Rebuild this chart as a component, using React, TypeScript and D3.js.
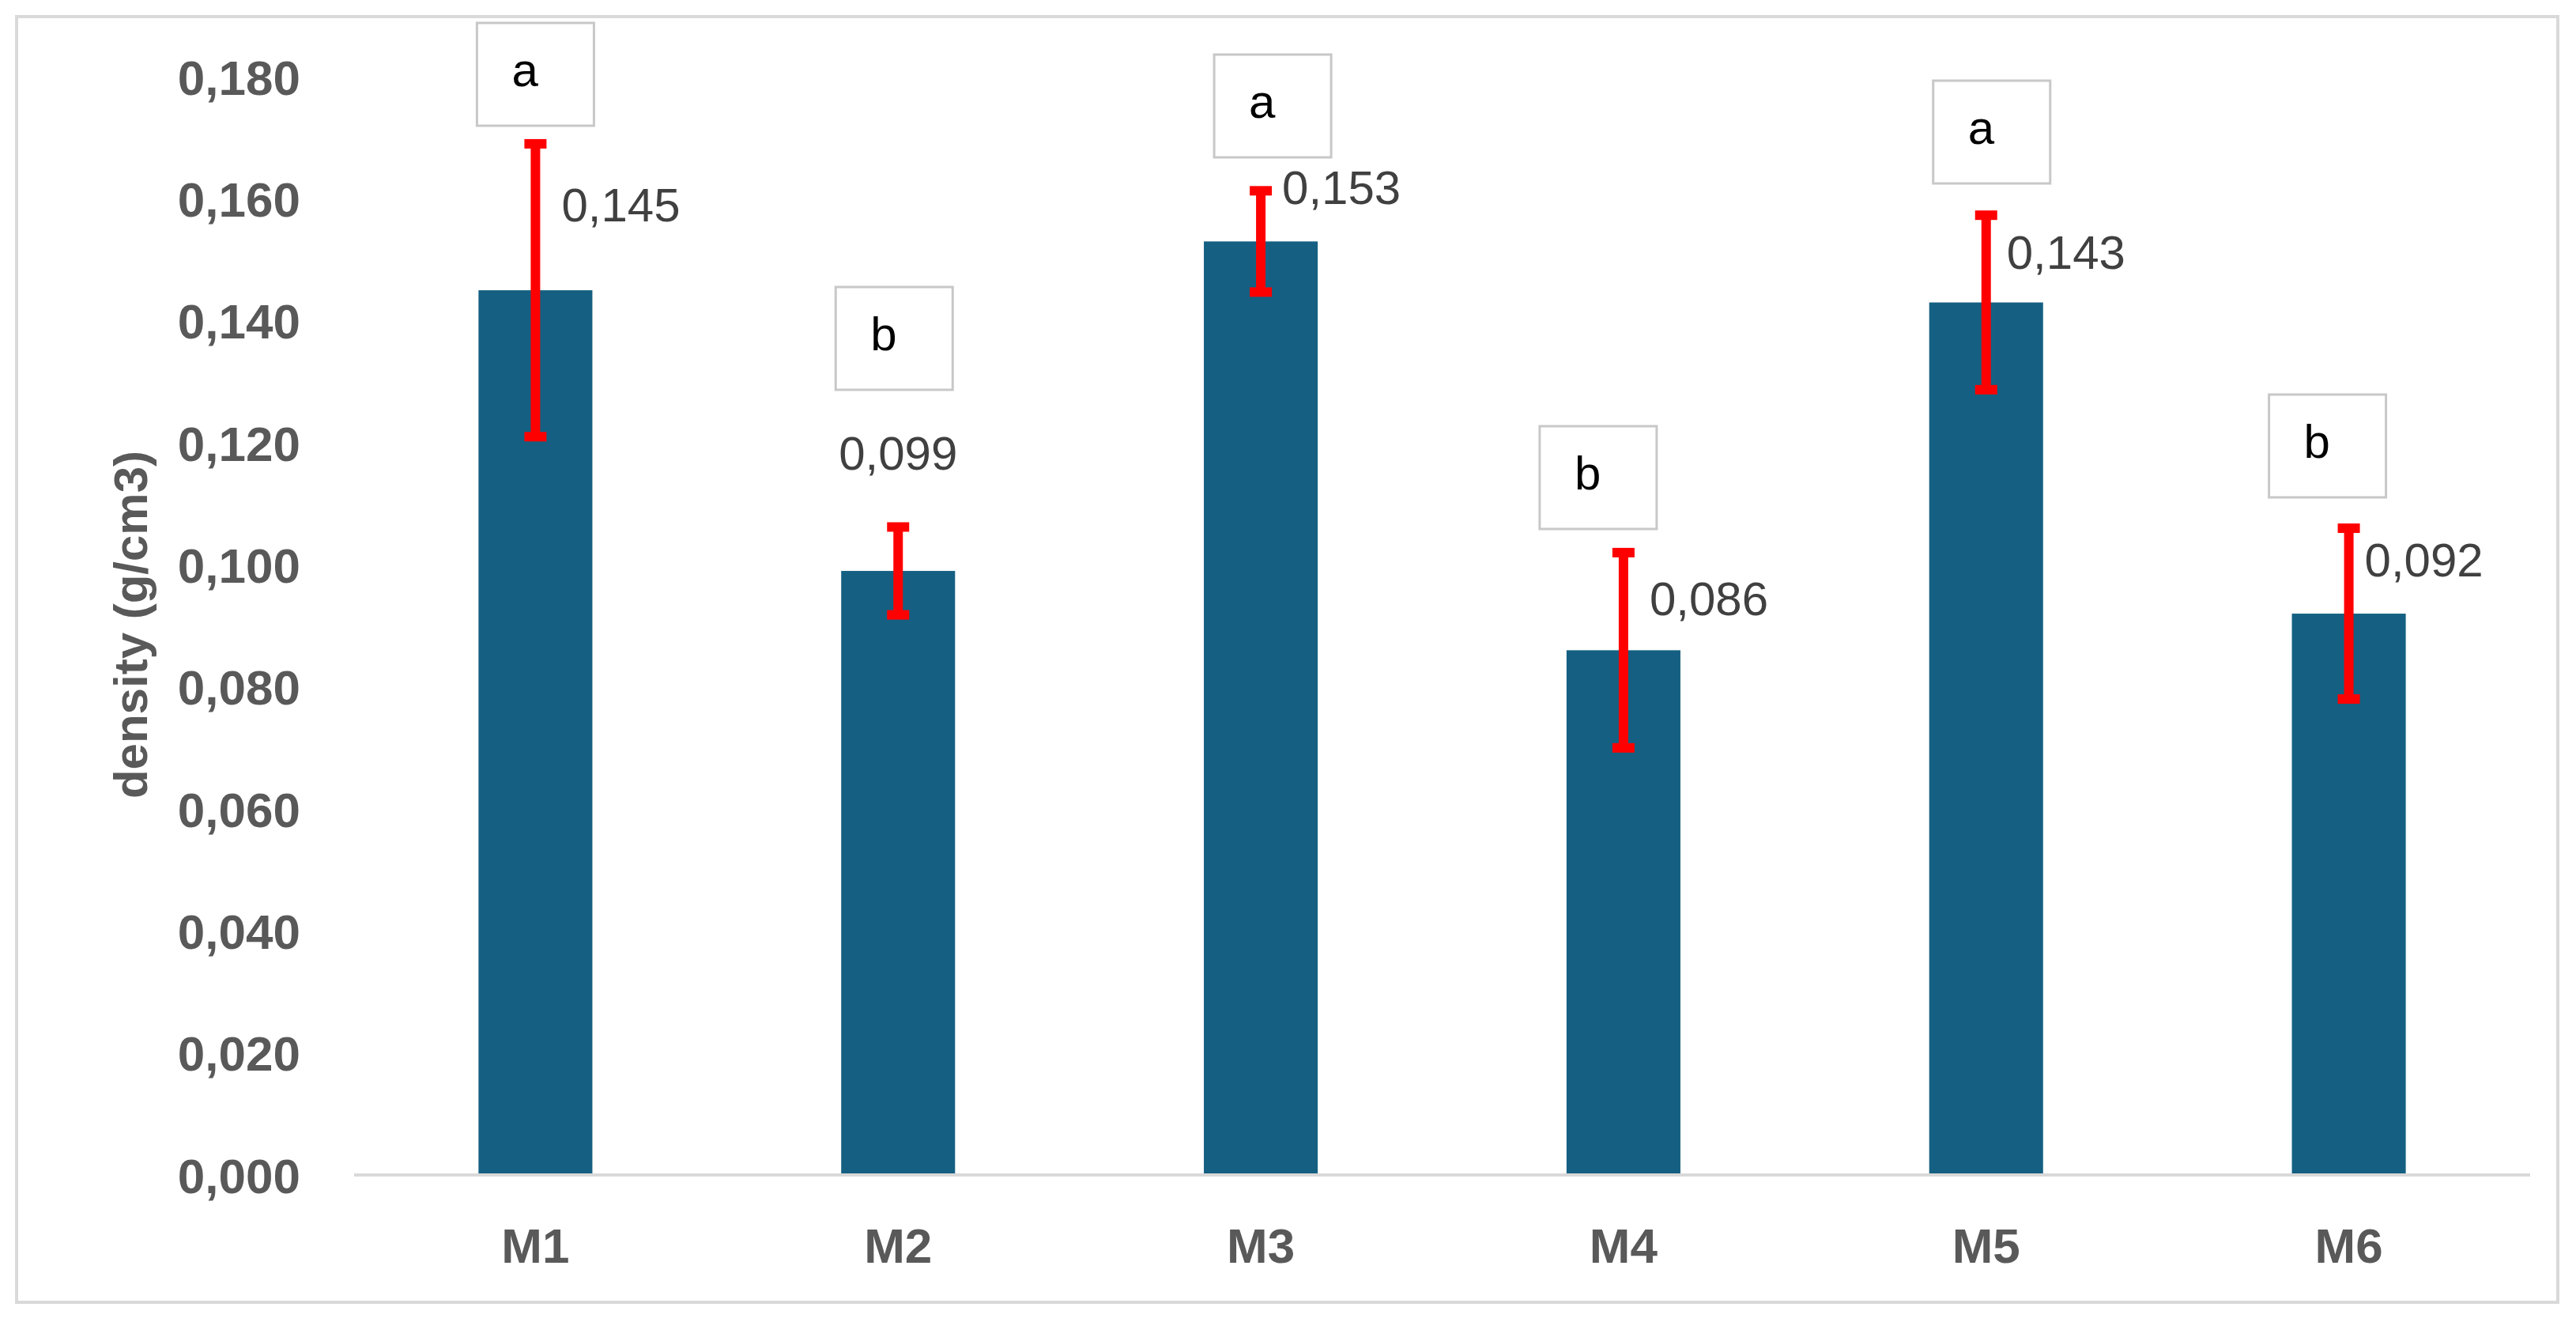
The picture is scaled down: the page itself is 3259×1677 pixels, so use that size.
import * as d3 from "d3";
import { useEffect, useRef } from "react";

// chart data
const categories: string[] = ["M1", "M2", "M3", "M4", "M5", "M6"];
const density: number[] = [0.145, 0.099, 0.153, 0.086, 0.143, 0.092];
const errors: number[] = [0.024, 0.0072, 0.0083, 0.016, 0.0143, 0.014];
const groups: string[] = ["a", "b", "a", "b", "a", "b"];
const yTicks: number[] = [0, 0.02, 0.04, 0.06, 0.08, 0.1, 0.12, 0.14, 0.16, 0.18];

// hand placed annotations (pixels, relative to the band centre)
const boxDx: number[] = [0, -5, 15, -32, 7, -27];
const boxTop: number[] = [29, 363, 69, 539, 102, 499];
const labelDx: number[] = [33, 0, 27, 33, 26, 20];
const labelBaseline: number[] = [280, 594, 258, 778, 340, 729];
const labelAnchor: string[] = ["start", "middle", "start", "start", "start", "start"];

const W = 3259;
const H = 1677;

export default function App() {
  const svgRef = useRef<SVGSVGElement | null>(null);

  useEffect(() => {
    document.body.style.margin = "0";
    const svg = d3.select(svgRef.current);
    svg.selectAll("*").remove();

    const left = 448, right = 3201, top = 97, bottom = 1486;
    const x = d3.scaleBand<string>()
      .domain(categories)
      .range([left, right])
      .paddingInner(0.686)
      .paddingOuter(0.343);
    const y = d3.scaleLinear().domain([0, 0.18]).range([bottom, top]);
    const fmt = d3.formatLocale({ decimal: ",", thousands: ".", grouping: [3], currency: ["", ""] }).format(".3f");

    svg.append("rect").attr("width", W).attr("height", H).attr("fill", "#ffffff");

    // outer frame
    svg.append("rect")
      .attr("x", 21).attr("y", 21)
      .attr("width", 3236 - 21).attr("height", 1647 - 21)
      .attr("fill", "none").attr("stroke", "#d9d9d9").attr("stroke-width", 4);

    // y axis labels
    const yAxis = d3.axisLeft(y).tickValues(yTicks).tickFormat(d => fmt(d as number)).tickSize(0).tickPadding(0);
    const ga = svg.append("g").attr("transform", "translate(380,0)").call(yAxis);
    ga.select(".domain").remove();
    ga.selectAll("text")
      .attr("font-family", "'Liberation Sans', Arial, sans-serif")
      .attr("font-weight", "bold")
      .attr("font-size", 62)
      .attr("fill", "#595959")
      .attr("dy", "0.36em");

    // bars
    svg.append("g").selectAll("rect")
      .data(density)
      .join("rect")
      .attr("x", (_, i) => x(categories[i])!)
      .attr("width", x.bandwidth())
      .attr("y", d => y(d))
      .attr("height", d => y(0) - y(d))
      .attr("fill", "#156082");

    // category axis line
    svg.append("line")
      .attr("x1", left).attr("x2", right)
      .attr("y1", bottom).attr("y2", bottom)
      .attr("stroke", "#d9d9d9").attr("stroke-width", 4);

    // x labels
    const xAxis = d3.axisBottom(x).tickSize(0).tickPadding(0);
    const gx = svg.append("g").attr("transform", `translate(0,${bottom})`).call(xAxis);
    gx.select(".domain").remove();
    gx.selectAll("text")
      .attr("font-family", "'Liberation Sans', Arial, sans-serif")
      .attr("font-weight", "bold")
      .attr("font-size", 62)
      .attr("fill", "#595959")
      .attr("dy", null)
      .attr("y", 1597 - bottom);

    // error bars
    const cx = (i: number) => x(categories[i])! + x.bandwidth() / 2;
    const eb = svg.append("g").attr("stroke", "#ff0000").attr("stroke-width", 12);
    density.forEach((v, i) => {
      const y1 = y(v + errors[i]);
      const y2 = y(v - errors[i]);
      eb.append("line").attr("x1", cx(i)).attr("x2", cx(i)).attr("y1", y1).attr("y2", y2);
      eb.append("line").attr("x1", cx(i) - 14).attr("x2", cx(i) + 14).attr("y1", y1).attr("y2", y1);
      eb.append("line").attr("x1", cx(i) - 14).attr("x2", cx(i) + 14).attr("y1", y2).attr("y2", y2);
    });

    // value labels
    svg.append("g").selectAll("text")
      .data(density)
      .join("text")
      .attr("x", (_, i) => cx(i) + labelDx[i])
      .attr("y", (_, i) => labelBaseline[i])
      .attr("text-anchor", (_, i) => labelAnchor[i])
      .attr("font-family", "'Liberation Sans', Arial, sans-serif")
      .attr("font-size", 60)
      .attr("fill", "#404040")
      .text(d => fmt(d));

    // group letter boxes
    const boxW = 148, boxH = 130;
    const gb = svg.append("g");
    groups.forEach((g, i) => {
      const bx = cx(i) + boxDx[i] - boxW / 2;
      gb.append("rect")
        .attr("x", bx).attr("y", boxTop[i])
        .attr("width", boxW).attr("height", boxH)
        .attr("fill", "#ffffff").attr("stroke", "#c8c8c8").attr("stroke-width", 3);
      gb.append("text")
        .attr("x", bx + 44).attr("y", boxTop[i] + 80)
        .attr("font-family", "'Liberation Sans', Arial, sans-serif")
        .attr("font-size", 60)
        .attr("fill", "#000000")
        .text(g);
    });

    // y title
    svg.append("text")
      .attr("transform", "translate(186,790) rotate(-90)")
      .attr("text-anchor", "middle")
      .attr("font-family", "'Liberation Sans', Arial, sans-serif")
      .attr("font-weight", "bold")
      .attr("font-size", 60)
      .attr("fill", "#595959")
      .text("density (g/cm3)");
  }, []);

  return (
    <div style={{ position: "absolute", left: 0, top: 0 }}>
      <svg ref={svgRef} width={W} height={H} style={{ display: "block" }}></svg>
    </div>
  );
}
